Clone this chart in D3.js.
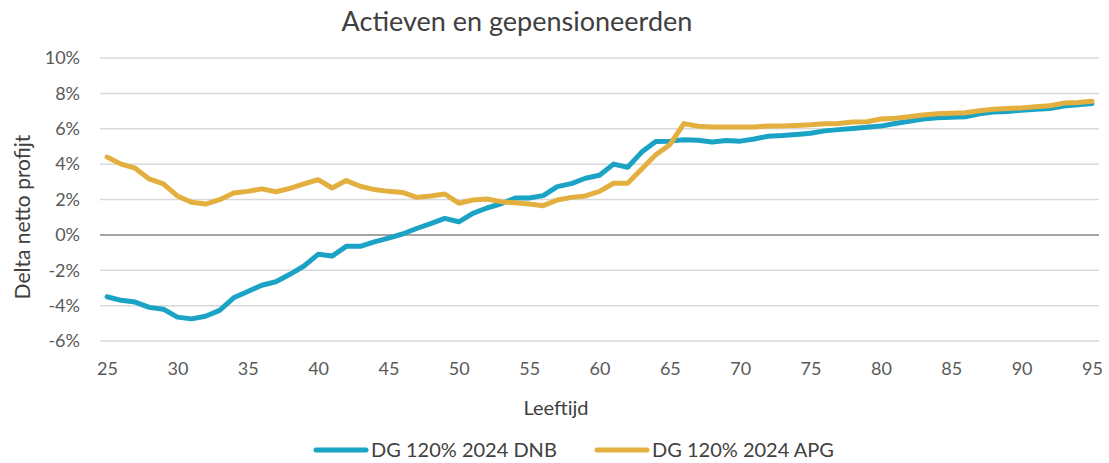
<!DOCTYPE html>
<html>
<head>
<meta charset="utf-8">
<script src="https://cdn.jsdelivr.net/npm/d3@7/dist/d3.min.js"></script>
<style>
  body { margin: 0; background: #fff; }
  svg text { font-family: Lato, "Open Sans", sans-serif; fill: #595959; }
</style>
</head>
<body>
<svg id="chart" width="1109" height="463"></svg>
<script>
// ages 25..95
var ages = d3.range(25, 96);
var dnb = [
  -3.5, -3.7, -3.8, -4.1, -4.2, -4.65, -4.75, -4.6, -4.27, -3.56,
  -3.2, -2.85, -2.65, -2.23, -1.76, -1.1, -1.2, -0.65, -0.65, -0.4,
  -0.18, 0.05, 0.36, 0.64, 0.93, 0.74, 1.22, 1.52, 1.76, 2.08,
  2.08, 2.22, 2.73, 2.9, 3.2, 3.37, 4.0, 3.82, 4.68, 5.28,
  5.3, 5.38, 5.35, 5.25, 5.34, 5.3, 5.42, 5.58, 5.62, 5.68,
  5.75, 5.88, 5.95, 6.02, 6.08, 6.15, 6.3, 6.42, 6.55, 6.62,
  6.65, 6.68, 6.85, 6.95, 6.98, 7.05, 7.1, 7.15, 7.28, 7.35, 7.42
];
var apg = [
  4.4, 4.0, 3.77, 3.16, 2.88, 2.2, 1.84, 1.74, 1.99, 2.37,
  2.46, 2.6, 2.44, 2.63, 2.88, 3.12, 2.65, 3.07, 2.75, 2.56,
  2.46, 2.4, 2.12, 2.2, 2.31, 1.79, 1.97, 2.03, 1.88, 1.81,
  1.74, 1.65, 1.97, 2.12, 2.2, 2.46, 2.92, 2.92, 3.73, 4.53,
  5.1, 6.29, 6.14, 6.1, 6.1, 6.1, 6.1, 6.15, 6.15, 6.18,
  6.22, 6.28, 6.3, 6.38, 6.4, 6.55, 6.6, 6.68, 6.78, 6.85,
  6.88, 6.9, 7.02, 7.1, 7.15, 7.18, 7.25, 7.3, 7.45, 7.48, 7.55
];
var yTicks = [-6, -4, -2, 0, 2, 4, 6, 8, 10];
var xTicks = d3.range(25, 96, 5);
var series = [
  { name: "DG 120% 2024 DNB", values: dnb, color: "#1ba3c6" },
  { name: "DG 120% 2024 APG", values: apg, color: "#e3af3f" }
];

var svg = d3.select("#chart");
var x = d3.scaleLinear().domain([24.5, 95.5]).range([100, 1099]);
var y = d3.scaleLinear().domain([-6, 10]).range([341, 58]);

// gridlines
svg.append("g").selectAll("line")
  .data(yTicks)
  .enter().append("line")
  .attr("x1", x.range()[0]).attr("x2", x.range()[1])
  .attr("y1", function(d) { return y(d); })
  .attr("y2", function(d) { return y(d); })
  .style("stroke", function(d) { return d === 0 ? "#868686" : "#d9d9d9"; })
  .style("stroke-width", 1.5);

// y axis labels
var yAxis = d3.axisLeft(y).tickValues(yTicks).tickSize(0).tickPadding(0)
  .tickFormat(function(d) { return d + "%"; });
svg.append("g").attr("transform", "translate(80,0)").call(yAxis)
  .call(function(g) { g.select(".domain").remove(); })
  .selectAll("text")
  .style("font-size", "18px").style("fill", "#595959")
  .style("font-family", "Lato, 'Open Sans', sans-serif");

// x axis labels
var xAxis = d3.axisBottom(x).tickValues(xTicks).tickSize(0).tickPadding(0);
svg.append("g").attr("transform", "translate(0,362)").call(xAxis)
  .call(function(g) { g.select(".domain").remove(); })
  .selectAll("text")
  .style("font-size", "18px").style("fill", "#595959")
  .style("font-family", "Lato, 'Open Sans', sans-serif");

// lines
var line = d3.line()
  .x(function(d) { return x(d[0]); })
  .y(function(d) { return y(d[1]); });

series.forEach(function(s) {
  svg.append("path")
    .datum(d3.zip(ages, s.values))
    .attr("d", line)
    .style("fill", "none")
    .style("stroke", s.color)
    .style("stroke-width", 5)
    .style("stroke-linejoin", "round")
    .style("stroke-linecap", "round");
});

// title and axis titles
svg.append("text")
  .attr("x", 517).attr("y", 31)
  .attr("text-anchor", "middle")
  .style("font-size", "27px").style("fill", "#404040")
  .text("Actieven en gepensioneerden");

svg.append("text")
  .attr("transform", "translate(30,217) rotate(-90)")
  .attr("text-anchor", "middle")
  .style("font-size", "21px").style("fill", "#404040")
  .text("Delta netto profijt");

svg.append("text")
  .attr("x", 556).attr("y", 415)
  .attr("text-anchor", "middle")
  .style("font-size", "20px").style("fill", "#404040")
  .text("Leeftijd");

// legend
var legendX = [316, 597];
var legend = svg.append("g").selectAll("g")
  .data(series)
  .enter().append("g")
  .attr("transform", function(d, i) { return "translate(" + legendX[i] + ",450)"; });
legend.append("line")
  .attr("x1", 0).attr("x2", 50)
  .style("stroke", function(d) { return d.color; })
  .style("stroke-width", 5)
  .style("stroke-linecap", "round");
legend.append("text")
  .attr("x", 55).attr("dy", "0.35em")
  .style("font-size", "20px").style("fill", "#404040")
  .text(function(d) { return d.name; });
</script>
</body>
</html>
